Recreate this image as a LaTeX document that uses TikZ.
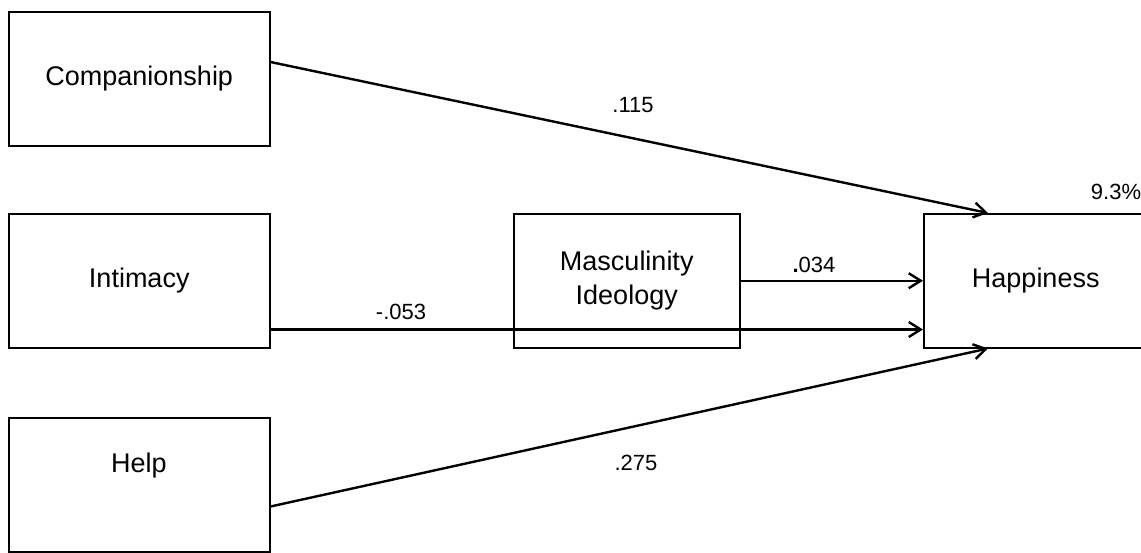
\documentclass[tikz,border=0pt]{standalone}
\usepackage{fontspec}
\setmainfont{Liberation Sans}
\usetikzlibrary{arrows.meta}
\begin{document}
\begin{tikzpicture}[x=1pt,y=-1pt,
  box/.style={draw=black,line width=1.5pt,minimum width=261pt,minimum height=134pt,inner sep=0pt,
    font=\fontsize{27}{34}\selectfont,align=center,anchor=north west},
  conn/.style={line width=2.4pt,-{Straight Barb[length=12pt,width=15pt,line width=2.4pt]}},
  lbl/.style={font=\fontsize{22}{26}\selectfont,inner sep=0pt}]
\useasboundingbox (0,0) rectangle (1141,552);
\node[box] (comp) at (8,11) {Companionship};
\node[box] (int) at (8,213) {Intimacy};
\node[box] (help) at (8,417) {};
\node[font=\fontsize{27}{34}\selectfont] (helpt) at (139,466) {Help};
\node[box,minimum width=226pt] (mas) at (513,213) {Masculinity\\Ideology};
\node[box,minimum width=224pt] (hap) at (923,213) {Happiness};
\draw[conn] ([yshift=-51pt]comp.north east) -- ([xshift=65pt]hap.north west);
\draw[conn] (mas.east) -- (hap.west);
\draw[conn] ([yshift=19pt]int.south east) -- ([yshift=19pt]hap.south west);
\draw[conn] ([yshift=46pt]help.south east) -- ([xshift=65pt]hap.south west);
\node[lbl] (l1) at (633,105) {.115};
\node[lbl] (l2) at (401,312) {-.053};
\node[lbl] (l3) at (814,265) {{\bfseries .}034};
\node[lbl] (l4) at (1116,192) {9.3\%};
\node[lbl] (l5) at (636,463) {.275};
\end{tikzpicture}
\end{document}
